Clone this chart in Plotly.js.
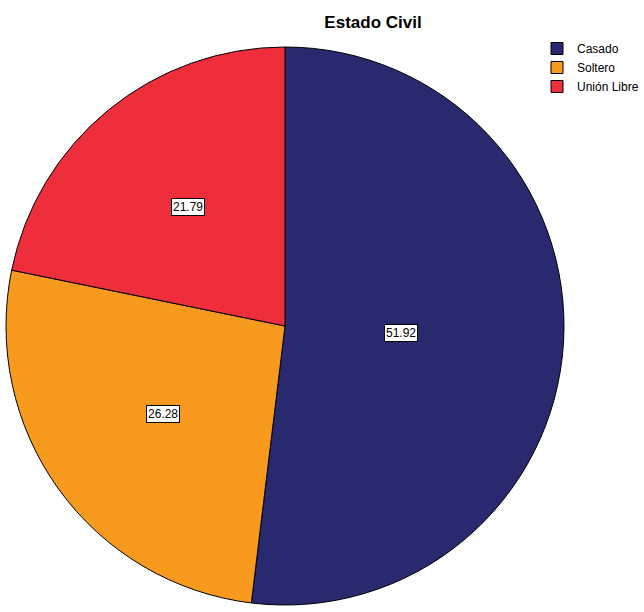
<!DOCTYPE html>
<html>
<head>
<meta charset="utf-8">
<script src="https://cdn.plot.ly/plotly-3.0.1.min.js"></script>
<style>html,body{margin:0;padding:0;background:#fff;}#chart{width:644px;height:612px;}</style>
</head>
<body>
<div id="chart"></div>
<script>
// Data
const categories = ["Casado", "Soltero", "Unión Libre"];
const percentages = [51.92, 26.28, 21.79];
const sliceColors = ["#29296f", "#f89a1d", "#ee2f3b"];
const chartTitle = "Estado Civil";

// Layout geometry (pixels)
const W = 644, H = 612, MR = 30;
const PW = W - MR; // plot-area width
const cx = 285, cy = 326, R = 279;
const labelRadius = [0.415, 0.54, 0.55];

const total = percentages.reduce((a, b) => a + b, 0);
let cum = 0;
const annotations = percentages.map((v, i) => {
  const midFrac = (cum + v / 2) / total;
  cum += v;
  const ang = midFrac * 2 * Math.PI; // clockwise from top
  const px = cx + Math.sin(ang) * R * labelRadius[i];
  const py = cy - Math.cos(ang) * R * labelRadius[i];
  return {
    x: px / PW, y: 1 - py / H, xref: "paper", yref: "paper",
    text: v.toFixed(2), showarrow: false,
    font: {family: "Liberation Sans, Arial, sans-serif", size: 12, color: "#000"},
    bgcolor: "#ffffff", bordercolor: "#000000", borderwidth: 1, borderpad: 1,
    xanchor: "center", yanchor: "middle"
  };
});

const trace = {
  type: "pie",
  labels: categories,
  values: percentages,
  sort: false,
  direction: "clockwise",
  rotation: 0,
  marker: {colors: sliceColors, line: {color: "#000000", width: 1}},
  textinfo: "none",
  hoverinfo: "label+value",
  domain: {x: [(cx - R) / PW, (cx + R) / PW], y: [1 - (cy + R) / H, 1 - (cy - R) / H]}
};

const layout = {
  width: W, height: H,
  margin: {l: 0, r: MR, t: 0, b: 0},
  paper_bgcolor: "#ffffff",
  title: {
    text: "<b>" + chartTitle + "</b>",
    x: 373 / W, xanchor: "center",
    y: 1 - 22 / H, yanchor: "middle",
    font: {family: "Liberation Sans, Arial, sans-serif", size: 17, color: "#000"}
  },
  showlegend: true,
  legend: {
    x: 537 / PW, xanchor: "left",
    y: 1 - 34 / H, yanchor: "top",
    font: {family: "Liberation Sans, Arial, sans-serif", size: 12, color: "#000"},
    bgcolor: "rgba(0,0,0,0)",
    itemwidth: 30,
    tracegroupgap: 0
  },
  annotations: annotations
};

Plotly.newPlot("chart", [trace], layout, {displayModeBar: false, staticPlot: true});
</script>
</body>
</html>
